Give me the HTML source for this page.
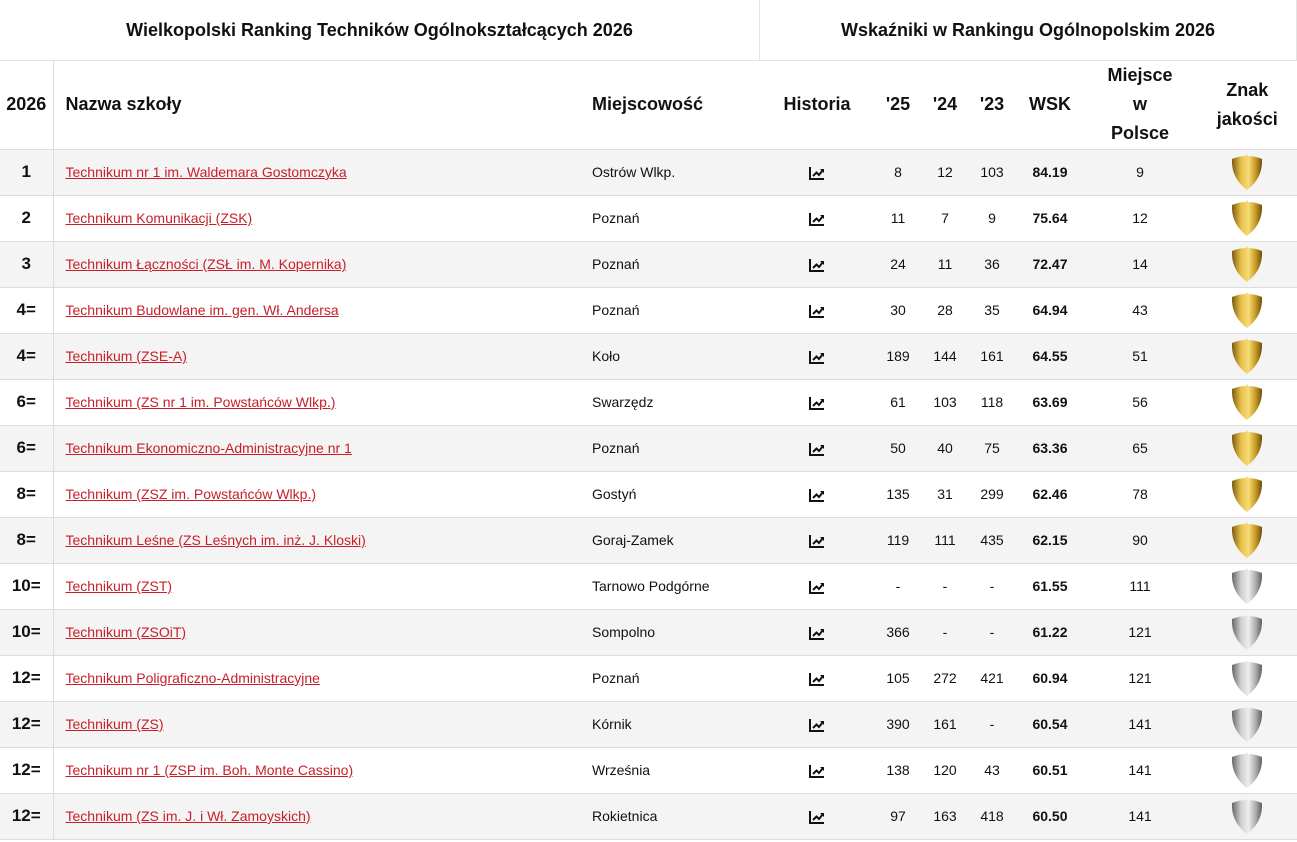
<!DOCTYPE html>
<html><head><meta charset="utf-8"><style>
*{margin:0;padding:0;box-sizing:border-box}
body{width:1297px;height:842px;background:#fff;font-family:"Liberation Sans",sans-serif;color:#111;overflow:hidden;position:relative}
.top{position:absolute;top:0;height:61px;display:flex;align-items:center;justify-content:center;font-size:18px;font-weight:bold;border-bottom:1px solid #e3e3e3}
table{position:absolute;top:61px;left:0;width:1297px;border-collapse:collapse;table-layout:fixed}
th{height:88px;font-size:18px;font-weight:bold;text-align:center;line-height:29px;border-bottom:1px solid #ddd}
td{height:46px;font-size:14px;text-align:center;border-bottom:1px solid #ddd;padding:0}
tr:nth-child(even) td{background:#f4f4f4}
td.r{font-size:17px;font-weight:bold;border-right:1px solid #ddd}
th.r{border-right:1px solid #ddd}
td.n,th.n{text-align:left;padding-left:12px}
td.n{color:#c8202a;text-decoration:underline}
td.m,th.m{text-align:left}
td.w{font-weight:bold}
td:last-child,th:last-child{border-right:1px solid #e3e3e3}
td svg{vertical-align:middle}
</style></head><body>
<svg width="0" height="0" style="position:absolute"><defs>
<linearGradient id="g" x1="0" x2="1"><stop offset="0" stop-color="#7a5a10"/><stop offset=".3" stop-color="#e8c04a"/><stop offset=".55" stop-color="#f6dc78"/><stop offset=".8" stop-color="#c3951f"/><stop offset="1" stop-color="#6e4e0c"/></linearGradient>
<linearGradient id="s" x1="0" x2="1"><stop offset="0" stop-color="#666"/><stop offset=".3" stop-color="#cfcfcf"/><stop offset=".55" stop-color="#eee"/><stop offset=".8" stop-color="#a9a9a9"/><stop offset="1" stop-color="#5e5e5e"/></linearGradient>
<symbol id="sh" viewBox="0 0 30 36"><path d="M15 0 L16 2 Q23 2 30 5 Q31 24 15 36 Q-1 24 0 5 Q7 2 14 2 Z"/></symbol>
<symbol id="hi" viewBox="0 0 16 14"><path d="M1 1V13H15" fill="none" stroke="#111" stroke-width="2"/><path d="M4 10L7.5 6.5L10 9L14 4" fill="none" stroke="#111" stroke-width="2"/><path d="M11 3H15V7Z" fill="#111"/></symbol>
</defs></svg>
<div class="top" style="left:0;width:760px;border-right:1px solid #e3e3e3">Wielkopolski Ranking Techników Ogólnokształcących 2026</div>
<div class="top" style="left:760px;width:537px;border-right:1px solid #e3e3e3">Wskaźniki w Rankingu Ogólnopolskim 2026</div>
<table>
<colgroup><col style="width:53px"><col style="width:539px"><col style="width:170px"><col style="width:110px"><col style="width:52px"><col style="width:42px"><col style="width:52px"><col style="width:64px"><col style="width:116px"><col style="width:99px"></colgroup>
<tr><th class="r">2026</th><th class="n">Nazwa szkoły</th><th class="m">Miejscowość</th><th>Historia</th><th>'25</th><th>'24</th><th>'23</th><th>WSK</th><th>Miejsce<br>w<br>Polsce</th><th>Znak<br>jakości</th></tr>
<tr><td class="r">1</td><td class="n">Technikum nr 1 im. Waldemara Gostomczyka</td><td class="m">Ostrów Wlkp.</td><td><svg width="16" height="14"><use href="#hi"/></svg></td><td>8</td><td>12</td><td>103</td><td class="w">84.19</td><td>9</td><td><svg width="30" height="36" fill="url(#g)"><use href="#sh"/></svg></td></tr>
<tr><td class="r">2</td><td class="n">Technikum Komunikacji (ZSK)</td><td class="m">Poznań</td><td><svg width="16" height="14"><use href="#hi"/></svg></td><td>11</td><td>7</td><td>9</td><td class="w">75.64</td><td>12</td><td><svg width="30" height="36" fill="url(#g)"><use href="#sh"/></svg></td></tr>
<tr><td class="r">3</td><td class="n">Technikum Łączności (ZSŁ im. M. Kopernika)</td><td class="m">Poznań</td><td><svg width="16" height="14"><use href="#hi"/></svg></td><td>24</td><td>11</td><td>36</td><td class="w">72.47</td><td>14</td><td><svg width="30" height="36" fill="url(#g)"><use href="#sh"/></svg></td></tr>
<tr><td class="r">4=</td><td class="n">Technikum Budowlane im. gen. Wł. Andersa</td><td class="m">Poznań</td><td><svg width="16" height="14"><use href="#hi"/></svg></td><td>30</td><td>28</td><td>35</td><td class="w">64.94</td><td>43</td><td><svg width="30" height="36" fill="url(#g)"><use href="#sh"/></svg></td></tr>
<tr><td class="r">4=</td><td class="n">Technikum (ZSE-A)</td><td class="m">Koło</td><td><svg width="16" height="14"><use href="#hi"/></svg></td><td>189</td><td>144</td><td>161</td><td class="w">64.55</td><td>51</td><td><svg width="30" height="36" fill="url(#g)"><use href="#sh"/></svg></td></tr>
<tr><td class="r">6=</td><td class="n">Technikum (ZS nr 1 im. Powstańców Wlkp.)</td><td class="m">Swarzędz</td><td><svg width="16" height="14"><use href="#hi"/></svg></td><td>61</td><td>103</td><td>118</td><td class="w">63.69</td><td>56</td><td><svg width="30" height="36" fill="url(#g)"><use href="#sh"/></svg></td></tr>
<tr><td class="r">6=</td><td class="n">Technikum Ekonomiczno-Administracyjne nr 1</td><td class="m">Poznań</td><td><svg width="16" height="14"><use href="#hi"/></svg></td><td>50</td><td>40</td><td>75</td><td class="w">63.36</td><td>65</td><td><svg width="30" height="36" fill="url(#g)"><use href="#sh"/></svg></td></tr>
<tr><td class="r">8=</td><td class="n">Technikum (ZSZ im. Powstańców Wlkp.)</td><td class="m">Gostyń</td><td><svg width="16" height="14"><use href="#hi"/></svg></td><td>135</td><td>31</td><td>299</td><td class="w">62.46</td><td>78</td><td><svg width="30" height="36" fill="url(#g)"><use href="#sh"/></svg></td></tr>
<tr><td class="r">8=</td><td class="n">Technikum Leśne (ZS Leśnych im. inż. J. Kloski)</td><td class="m">Goraj-Zamek</td><td><svg width="16" height="14"><use href="#hi"/></svg></td><td>119</td><td>111</td><td>435</td><td class="w">62.15</td><td>90</td><td><svg width="30" height="36" fill="url(#g)"><use href="#sh"/></svg></td></tr>
<tr><td class="r">10=</td><td class="n">Technikum (ZST)</td><td class="m">Tarnowo Podgórne</td><td><svg width="16" height="14"><use href="#hi"/></svg></td><td>-</td><td>-</td><td>-</td><td class="w">61.55</td><td>111</td><td><svg width="30" height="36" fill="url(#s)"><use href="#sh"/></svg></td></tr>
<tr><td class="r">10=</td><td class="n">Technikum (ZSOiT)</td><td class="m">Sompolno</td><td><svg width="16" height="14"><use href="#hi"/></svg></td><td>366</td><td>-</td><td>-</td><td class="w">61.22</td><td>121</td><td><svg width="30" height="36" fill="url(#s)"><use href="#sh"/></svg></td></tr>
<tr><td class="r">12=</td><td class="n">Technikum Poligraficzno-Administracyjne</td><td class="m">Poznań</td><td><svg width="16" height="14"><use href="#hi"/></svg></td><td>105</td><td>272</td><td>421</td><td class="w">60.94</td><td>121</td><td><svg width="30" height="36" fill="url(#s)"><use href="#sh"/></svg></td></tr>
<tr><td class="r">12=</td><td class="n">Technikum (ZS)</td><td class="m">Kórnik</td><td><svg width="16" height="14"><use href="#hi"/></svg></td><td>390</td><td>161</td><td>-</td><td class="w">60.54</td><td>141</td><td><svg width="30" height="36" fill="url(#s)"><use href="#sh"/></svg></td></tr>
<tr><td class="r">12=</td><td class="n">Technikum nr 1 (ZSP im. Boh. Monte Cassino)</td><td class="m">Września</td><td><svg width="16" height="14"><use href="#hi"/></svg></td><td>138</td><td>120</td><td>43</td><td class="w">60.51</td><td>141</td><td><svg width="30" height="36" fill="url(#s)"><use href="#sh"/></svg></td></tr>
<tr><td class="r">12=</td><td class="n">Technikum (ZS im. J. i Wł. Zamoyskich)</td><td class="m">Rokietnica</td><td><svg width="16" height="14"><use href="#hi"/></svg></td><td>97</td><td>163</td><td>418</td><td class="w">60.50</td><td>141</td><td><svg width="30" height="36" fill="url(#s)"><use href="#sh"/></svg></td></tr>
</table>
</body></html>
